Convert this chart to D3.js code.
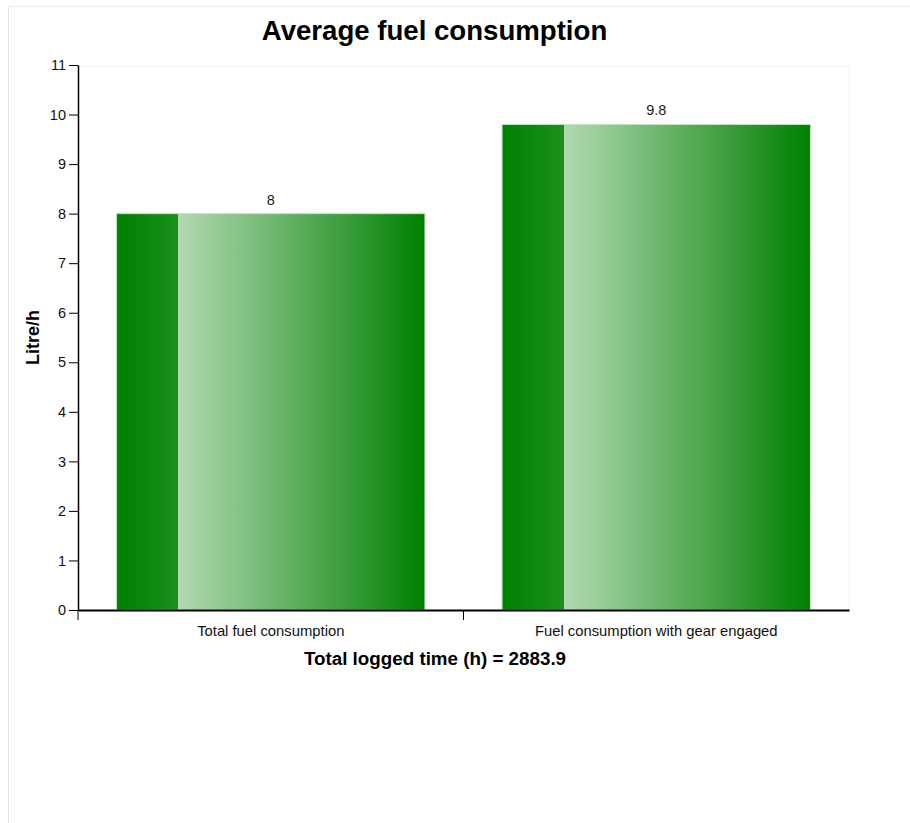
<!DOCTYPE html>
<html>
<head>
<meta charset="utf-8">
<script src="https://cdn.jsdelivr.net/npm/d3@7"></script>
<style>
  html, body { margin: 0; padding: 0; background: #fff; }
  #frame { position: absolute; left: 8px; top: 6px; width: 1000px; height: 1000px; border-left: 1px solid #e4e4e4; border-top: 1px solid #ececec; }
  svg { position: absolute; left: 0; top: 0; font-family: "Liberation Sans", Arial, sans-serif; }
</style>
</head>
<body>
<div id="frame"></div>
<svg id="chart" width="910" height="823"></svg>
<script>
const categories = ["Total fuel consumption", "Fuel consumption with gear engaged"];
const values = [8, 9.8];
const yTicks = [0, 1, 2, 3, 4, 5, 6, 7, 8, 9, 10, 11];
const titleText = "Average fuel consumption";
const yLabelText = "Litre/h";
const xLabelText = "Total logged time (h) = 2883.9";

const svg = d3.select("#chart");
const plotLeft = 78, plotRight = 849, plotTop = 65, plotBottom = 610;

const x = d3.scaleBand().domain(categories).range([plotLeft, plotRight]).paddingInner(0.2).paddingOuter(0.1);
const y = d3.scaleLinear().domain([0, 11]).range([plotBottom, plotTop]);

const defs = svg.append("defs");
const grad = defs.append("linearGradient").attr("id", "barGrad").attr("x1", "0%").attr("x2", "100%").attr("y1", "0%").attr("y2", "0%");
grad.append("stop").attr("offset", "0%").attr("stop-color", "#008000");
grad.append("stop").attr("offset", "20%").attr("stop-color", "#1b901b");
grad.append("stop").attr("offset", "20%").attr("stop-color", "#b2d9b2");
grad.append("stop").attr("offset", "100%").attr("stop-color", "#008000");

// faint plot frame
svg.append("rect").attr("x", plotLeft).attr("y", plotTop + 1).attr("width", plotRight - plotLeft).attr("height", plotBottom - plotTop - 1)
  .attr("fill", "none").attr("stroke", "#f6f6f6");

// bars
svg.append("g").selectAll("rect").data(categories).join("rect")
  .attr("x", d => x(d))
  .attr("y", (d, i) => y(values[i]))
  .attr("width", x.bandwidth())
  .attr("height", (d, i) => y(0) - y(values[i]))
  .attr("fill", "url(#barGrad)")
  .attr("stroke", "#c4e3c4").attr("stroke-width", 1);

// value labels
svg.append("g").selectAll("text").data(categories).join("text")
  .attr("x", d => x(d) + x.bandwidth() / 2)
  .attr("y", (d, i) => y(values[i]) - 9)
  .attr("text-anchor", "middle")
  .attr("font-size", "14.5px").attr("fill", "#222")
  .text((d, i) => values[i]);

// y axis
const yAxis = svg.append("g").attr("transform", `translate(${plotLeft},0)`)
  .call(d3.axisLeft(y).tickValues(yTicks).tickSize(9).tickPadding(3).tickSizeOuter(0).tickFormat(d3.format("d")));
yAxis.select(".domain").attr("stroke", "#000").attr("stroke-width", 1.5);
yAxis.selectAll(".tick line").attr("stroke", "#000");
yAxis.selectAll(".tick text").attr("font-size", "14.5px").attr("fill", "#111").attr("font-family", "Liberation Sans, Arial, sans-serif");

// x axis
const xAxis = svg.append("g").attr("transform", `translate(0,${plotBottom})`)
  .call(d3.axisBottom(x).tickSize(0).tickSizeOuter(0).tickPadding(15));
xAxis.select(".domain").attr("stroke", "#000").attr("stroke-width", 2);
xAxis.selectAll(".tick text").attr("font-size", "14.8px").attr("fill", "#111").attr("font-family", "Liberation Sans, Arial, sans-serif");
xAxis.selectAll(".boundary").data(categories).join("line").attr("class", "boundary")
  .attr("x1", d => x(d) - x.step() * x.paddingOuter())
  .attr("x2", d => x(d) - x.step() * x.paddingOuter())
  .attr("y1", 0).attr("y2", 10).attr("stroke", "#000").attr("stroke-width", 1);

// title
svg.append("text").attr("x", 434.5).attr("y", 40).attr("text-anchor", "middle")
  .attr("font-size", "27.6px").attr("font-weight", "bold").attr("fill", "#000").text(titleText);

// y label
svg.append("text").attr("transform", `translate(39,${(plotTop + plotBottom) / 2}) rotate(-90)`)
  .attr("text-anchor", "middle").attr("font-size", "18px").attr("font-weight", "bold").attr("fill", "#000").text(yLabelText);

// x label
svg.append("text").attr("x", 435).attr("y", 665).attr("text-anchor", "middle")
  .attr("font-size", "18.8px").attr("font-weight", "bold").attr("fill", "#000").text(xLabelText);
</script>
</body>
</html>
